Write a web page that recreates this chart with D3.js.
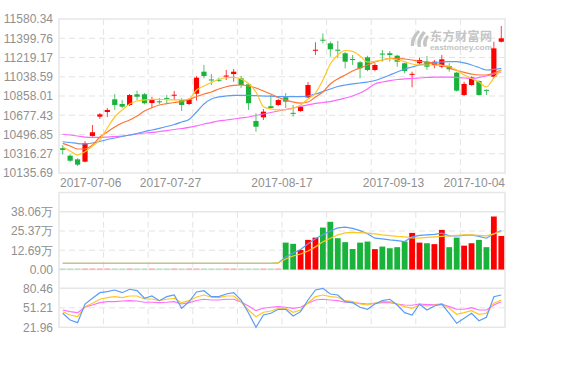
<!DOCTYPE html>
<html><head><meta charset="utf-8">
<script src="https://cdn.jsdelivr.net/npm/d3@7"></script>
<style>body{margin:0;background:#fff;} svg{display:block;font-family:Arial,"Liberation Sans",sans-serif;}</style>
</head><body><svg id="c" width="565" height="385"></svg>
<script>
const dates = ["2017-07-06","2017-07-07","2017-07-10","2017-07-11","2017-07-12","2017-07-13","2017-07-14","2017-07-17","2017-07-18","2017-07-19","2017-07-20","2017-07-21","2017-07-24","2017-07-25","2017-07-26",
"2017-07-27","2017-07-28","2017-07-31","2017-08-01","2017-08-02","2017-08-03","2017-08-04","2017-08-07","2017-08-08","2017-08-09","2017-08-10","2017-08-11","2017-08-14","2017-08-15","2017-08-16",
"2017-08-17","2017-08-18","2017-08-21","2017-08-22","2017-08-23","2017-08-24","2017-08-25","2017-08-28","2017-08-29","2017-08-30","2017-08-31","2017-09-01","2017-09-04","2017-09-11","2017-09-12",
"2017-09-13","2017-09-14","2017-09-15","2017-09-18","2017-09-19","2017-09-20","2017-09-21","2017-09-22","2017-09-25","2017-09-26","2017-09-27","2017-09-28","2017-09-29","2017-10-03","2017-10-04"];
const tickDates = ["2017-07-06","2017-07-27","2017-08-17","2017-09-13","2017-10-04"];

const opens  = [10368,10298,10264,10242,10483,10664,10708,10827,10783,10774,10874,10874,10792,10808,10840,10862,10820,10783,10880,11086,11013,11010,11040,11064,11024,10968,10624,10658,10762,10774,10846,10700,10717,10844,11286,11386,11352,11292,11259,11205,11174,11221,11102,11256,11259,11236,11165,11060,11165,11180,11149,11133,11139,11077,10867,10961,10999,10916,11039,11367];
const highs  = [10398,10310,10275,10434,10586,10698,10745,10877,10820,10877,10908,10886,10849,10839,10867,10905,10839,10836,11045,11149,11064,11030,11102,11111,11046,10975,10696,10736,10867,10830,10886,10774,10765,10989,11362,11446,11370,11374,11270,11243,11185,11235,11165,11290,11280,11245,11170,11086,11217,11233,11196,11243,11165,11085,10992,11040,11005,10920,11367,11515];
const lows   = [10310,10240,10201,10236,10476,10642,10661,10727,10745,10764,10820,10780,10745,10783,10792,10820,10717,10774,10815,11024,10961,10990,11008,10992,10933,10727,10523,10633,10742,10765,10745,10664,10710,10840,11243,11352,11227,11212,11118,11149,11024,11090,11090,11180,11180,11133,11071,10940,11149,11102,11118,11118,11086,10900,10860,10955,10862,10867,11030,11360];
const closes = [10352,10251,10214,10414,10518,10686,10727,10774,10758,10867,10851,10790,10820,10800,10833,10870,10774,10827,11030,11046,11005,11005,11050,11086,10961,10790,10570,10711,10745,10820,10805,10692,10758,10961,11292,11378,11296,11287,11180,11200,11118,11102,11149,11250,11243,11180,11093,11066,11196,11133,11180,11202,11109,10908,10971,11033,10867,10910,11305,11399];

const ma5  = [10382,10342,10305,10336,10389,10445,10558,10661,10727,10783,10811,10821,10827,10825,10823,10821,10821,10830,10914,10952,10985,11013,11029,11033,11018,10975,10896,10758,10736,10727,10731,10743,10774,10830,10886,11008,11158,11243,11285,11276,11233,11177,11182,11196,11210,11196,11180,11158,11149,11149,11149,11144,11135,11102,11055,11022,10989,10943,11027,11102];
const ma10 = [10414,10389,10361,10361,10398,10473,10520,10567,10605,10633,10670,10717,10748,10774,10786,10797,10806,10825,10853,10877,10896,10924,10945,10957,10961,10952,10933,10905,10877,10844,10821,10802,10792,10802,10849,10896,10971,11018,11055,11093,11121,11149,11177,11196,11210,11210,11205,11196,11182,11177,11163,11149,11121,11097,11079,11064,11055,11055,11074,11102];
const ma20 = [10429,10422,10412,10408,10417,10431,10450,10464,10478,10492,10506,10525,10539,10555,10572,10591,10614,10638,10708,10783,10830,10849,10858,10863,10863,10863,10861,10858,10856,10853,10853,10852,10852,10858,10877,10900,10924,10947,10961,10971,10980,10989,11003,11027,11055,11083,11111,11130,11149,11163,11172,11177,11180,11180,11168,11149,11125,11102,11107,11118];
const ma60 = [10499,10492,10483,10473,10469,10469,10473,10478,10483,10492,10502,10511,10516,10525,10534,10544,10553,10563,10577,10595,10609,10624,10633,10642,10652,10661,10675,10689,10703,10717,10731,10745,10760,10774,10788,10797,10806,10821,10839,10858,10886,10924,10971,10989,11003,11013,11018,11022,11027,11032,11036,11036,11036,11032,11027,11022,11032,11046,11064,11083];

const volumes = [0,0,0,0,0,0,0,0,0,0,0,0,0,0,0,0,0,0,0,0,0,0,0,0,0,0,0,0,0,0,
17.7,16.9,12.9,19.5,21.0,27.6,31.4,20.6,18.0,13.5,17.7,18.4,13.4,15.1,14.0,14.7,18.4,24.1,17.7,17.3,16.7,26.1,14.7,21.0,15.7,17.3,19.5,14.7,34.9,22.1];
const volMaA = [4.1,4.1,4.1,4.1,4.1,4.1,4.1,4.1,4.1,4.1,4.1,4.1,4.1,4.1,4.1,4.1,4.1,4.1,4.1,4.1,4.1,4.1,4.1,4.1,4.1,4.1,4.1,4.1,4.1,4.3,
8.3,10.9,13.2,16.9,20.2,23.1,25.4,27.4,27.9,27.1,25.6,23.5,20.6,20.2,19.5,19.0,18.4,21.5,22.5,22.8,23.1,23.9,22.1,22.1,22.5,22.8,21.8,20.6,23.5,25.6];
const volMaB = [4.1,4.1,4.1,4.1,4.1,4.1,4.1,4.1,4.1,4.1,4.1,4.1,4.1,4.1,4.1,4.1,4.1,4.1,4.1,4.1,4.1,4.1,4.1,4.1,4.1,4.1,4.1,4.1,4.1,4.3,
6.9,8.9,10.2,12.2,14.9,18.2,20.6,22.8,24.1,24.5,24.3,23.9,23.5,22.8,22.3,21.8,21.5,20.8,20.6,21.2,21.5,21.8,22.1,22.5,22.8,22.8,22.5,22.1,23.5,25.0];

const indA = [43.0,32.9,28.9,56.9,65.5,73.9,75.4,77.9,73.9,79.0,76.9,65.5,68.9,61.9,67.9,70.4,50.5,60.4,74.9,76.9,67.9,67.9,71.9,73.9,62.9,43.4,21.96,40.4,43.0,48.9,48.9,38.9,45.4,62.9,77.9,80.46,71.9,70.4,60.4,58.9,52.0,48.9,56.9,61.9,64.0,55.4,43.9,40.4,56.9,47.9,53.9,56.9,43.0,28.0,35.5,43.0,31.9,37.0,67.9,70.4];
const indB = [45.4,40.4,37.9,52.9,58.0,64.0,66.4,67.9,66.4,68.9,68.9,64.4,64.4,61.9,64.0,65.5,58.9,61.9,67.4,70.4,67.0,66.4,68.9,68.9,59.9,47.9,37.9,44.5,46.4,50.5,50.5,44.5,47.9,58.9,67.9,70.4,67.9,67.0,61.9,60.4,56.9,55.4,58.4,60.4,60.4,56.9,52.9,50.5,55.4,53.9,55.4,55.4,50.5,41.5,43.9,46.9,41.5,43.0,58.0,62.9];
const indC = [47.9,45.4,43.9,52.0,55.4,58.9,60.4,60.4,61.4,61.9,61.4,59.5,59.5,58.9,59.5,60.4,56.9,58.9,62.2,64.0,62.9,62.9,64.0,64.0,59.9,53.9,46.9,50.5,52.0,52.9,52.0,50.5,52.0,58.0,62.9,64.0,62.9,61.9,59.5,58.9,58.0,56.9,57.7,58.9,58.9,56.9,55.4,55.0,56.9,55.9,55.9,56.9,52.9,49.0,49.0,51.4,47.9,47.9,55.4,60.4];

const priceTicks = [10135.69,10316.27,10496.85,10677.43,10858.01,11038.59,11219.17,11399.76,11580.34];
const volTicks = [0,12.69,25.37,38.06];
const volTickLabels = ["0.00","12.69万","25.37万","38.06万"];
const indTicks = [21.96,51.21,80.46];

const UP = "#ff0000", DOWN = "#19b23b", GRID = "#e3e3e3", BORDER = "#e6e6e6", TXT = "#909090";
const X0 = 59, X1 = 505;
const svg = d3.select("#c");

const x = d3.scaleBand().domain(dates).range([X0, X1]).padding(0);
const bw = x.bandwidth();
const cx = d => x(d) + bw / 2;

const yP = d3.scaleLinear().domain([priceTicks[0], priceTicks[priceTicks.length-1]]).range([173, 19]);
const yV = d3.scaleLinear().domain([0, 38.06]).range([269.5, 211.7]);
const yI = d3.scaleLinear().domain([21.96, 80.46]).range([327.3, 288.3]);

// vertical grid
const vgrid = d3.range(1, 10).map(k => X0 + k * (X1 - X0) / 10);
function vLines(y0, y1) {
  svg.append("g").selectAll("line").data(vgrid).join("line")
    .attr("x1", d => d).attr("x2", d => d).attr("y1", y0).attr("y2", y1)
    .attr("stroke", GRID).attr("stroke-dasharray", "6,4");
}
function hLine(y, dashed) {
  svg.append("line").attr("x1", X0).attr("x2", X1).attr("y1", y).attr("y2", y)
    .attr("stroke", dashed ? GRID : BORDER).attr("stroke-width", dashed ? 1 : 1.5)
    .attr("stroke-dasharray", dashed ? "6,4" : null);
}

// main panel grid
vLines(19, 173);
priceTicks.slice(1, -1).forEach(t => hLine(yP(t), true));
// volume panel grid
vLines(211.7, 269.5);
hLine(yV(12.69), true); hLine(yV(25.37), true); hLine(yV(38.06), false);
// indicator grid
vLines(288.3, 327.3);
hLine(yI(51.21), true); hLine(yI(80.46), false);

// frames
svg.append("rect").attr("x", X0).attr("y", 19).attr("width", X1 - X0).attr("height", 154)
  .attr("fill", "none").attr("stroke", BORDER).attr("stroke-width", 1.5);
svg.append("rect").attr("x", X0).attr("y", 192.5).attr("width", X1 - X0).attr("height", 327.3 - 192.5)
  .attr("fill", "none").attr("stroke", BORDER).attr("stroke-width", 1.5);
hLine(269.5, false);

// watermark
const wm = svg.append("g").attr("fill", "#c4c4c4");
wm.append("path").attr("d", "M418,30 C413,35 410,40 411,46 L414,46 C414,41 416,36 420,32 Z");
wm.append("path").attr("d", "M423,31 C418,37 416,42 418,47 L421,47 C420,42 422,37 426,33 Z");
wm.append("path").attr("d", "M427,35 C423,39 422,43 424,47 L427,46 C426,43 427,40 429,37 Z");
wm.append("text").attr("x", 430).attr("y", 40.5).attr("font-family", "'Noto Sans CJK SC',sans-serif")
  .attr("font-size", 12).attr("font-weight", "bold").attr("textLength", 62).text("东方财富网");
wm.append("text").attr("x", 430).attr("y", 49.5).attr("font-size", 7.5).attr("font-weight", "bold")
  .attr("textLength", 62).attr("lengthAdjust", "spacingAndGlyphs").text("eastmoney.com");

// y axes labels
function leftAxis(scale, ticks, fmt) {
  const g = svg.append("g").attr("transform", `translate(${X0},0)`)
    .call(d3.axisLeft(scale).tickValues(ticks).tickSize(0).tickPadding(6).tickFormat(fmt));
  g.select(".domain").remove();
  g.selectAll("text").attr("fill", TXT).attr("font-size", 12).attr("font-family", "Arial,'Liberation Sans',sans-serif");
}
leftAxis(yP, priceTicks, d => d.toFixed(2));
leftAxis(yV, volTicks, (d, i) => volTickLabels[i]);
leftAxis(yI, indTicks, d => d.toFixed(2));

// x labels
svg.append("g").selectAll("text").data(tickDates).join("text")
  .attr("x", (d, i) => i === 0 ? X0 + 1 : i === tickDates.length - 1 ? X1 : x(d))
  .attr("y", 186.5)
  .attr("text-anchor", (d, i) => i === 0 ? "start" : i === tickDates.length - 1 ? "end" : "middle")
  .attr("fill", TXT).attr("font-size", 12).text(d => d);

// candles
const idx = d3.range(dates.length);
const col = i => closes[i] >= opens[i] ? UP : DOWN;
const cg = svg.append("g");
cg.selectAll("line").data(idx).join("line")
  .attr("x1", i => cx(dates[i])).attr("x2", i => cx(dates[i]))
  .attr("y1", i => yP(highs[i])).attr("y2", i => yP(lows[i]))
  .attr("stroke", col).attr("stroke-width", 1).attr("opacity", 0.75);
cg.selectAll("rect").data(idx).join("rect")
  .attr("x", i => cx(dates[i]) - 2.6).attr("width", 5.2)
  .attr("y", i => yP(Math.max(opens[i], closes[i])))
  .attr("height", i => Math.max(1, Math.abs(yP(opens[i]) - yP(closes[i]))))
  .attr("fill", col);

// MA lines
function drawLine(arr, scale, color, curve) {
  const l = d3.line().x((d, i) => cx(dates[i])).y(d => scale(d)).curve(curve || d3.curveLinear);
  svg.append("path").datum(arr).attr("d", l).attr("fill", "none").attr("stroke", color).attr("stroke-width", 1.2);
}
drawLine(ma60, yP, "#ff66ff", d3.curveMonotoneX);
drawLine(ma20, yP, "#5a9cf8", d3.curveMonotoneX);
drawLine(ma10, yP, "#ff7433", d3.curveMonotoneX);
drawLine(ma5, yP, "#ffc722", d3.curveMonotoneX);

// volume bars
const vg = svg.append("g");
vg.selectAll("rect").data(idx).join("rect")
  .attr("x", i => cx(dates[i]) - 2.9).attr("width", 5.8)
  .attr("y", i => volumes[i] > 0 ? yV(volumes[i]) : yV(0) - 1)
  .attr("height", i => volumes[i] > 0 ? yV(0) - yV(volumes[i]) : 1)
  .attr("fill", col).attr("opacity", i => volumes[i] > 0 ? 1 : 0.35);
drawLine(volMaA, yV, "#5a9cf8");
drawLine(volMaB, yV, "#ffc722");

// indicator
drawLine(indC, yI, "#ff6fff");
drawLine(indB, yI, "#ffc722");
drawLine(indA, yI, "#5a9cf8");
</script></body></html>
